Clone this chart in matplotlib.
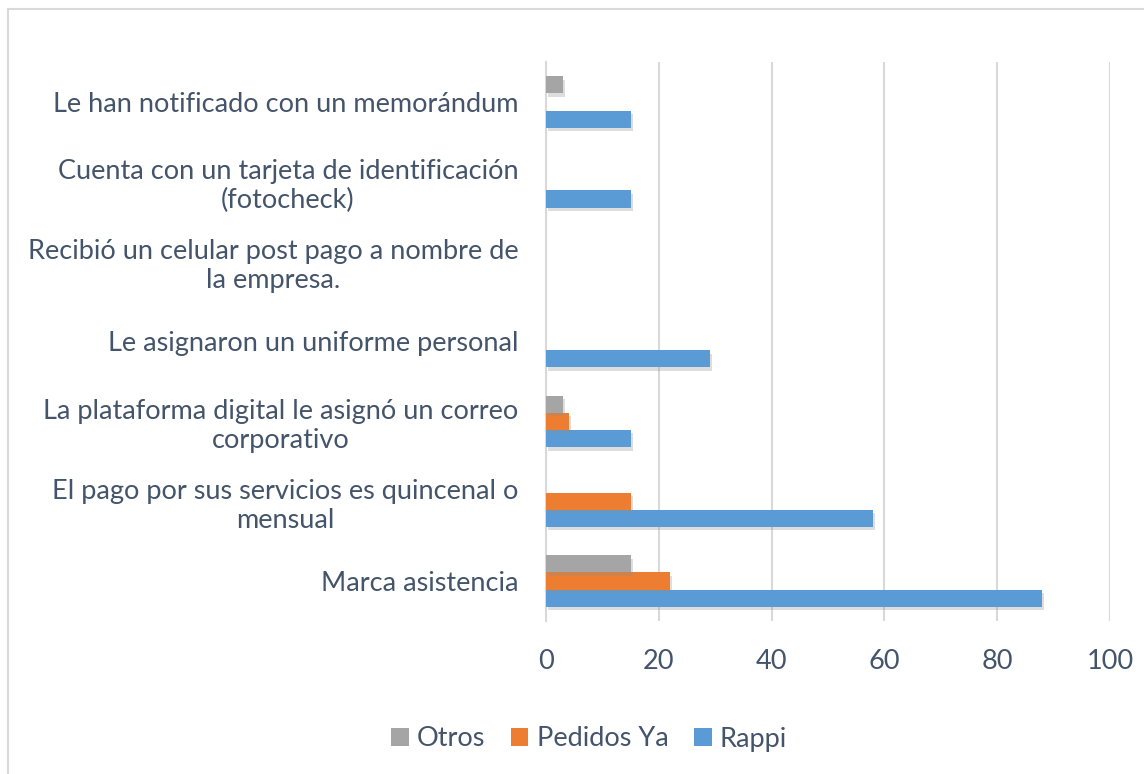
import matplotlib
matplotlib.use("Agg")
import matplotlib.pyplot as plt
import matplotlib.patheffects as pe
from matplotlib.patches import Rectangle, Patch
import numpy as np

categories = [
    "Marca asistencia",
    "El pago por sus servicios es quincenal o\nmensual",
    "La plataforma digital le asignó un correo\ncorporativo",
    "Le asignaron un uniforme personal",
    "Recibió un celular post pago a nombre de\nla empresa.",
    "Cuenta con un tarjeta de identificación\n(fotocheck)",
    "Le han notificado con un memorándum",
]
rappi = [88, 58, 15, 29, 0, 15, 15]
pedidos_ya = [22, 15, 4, 0, 0, 0, 0]
otros = [15, 0, 3, 0, 0, 0, 3]
x_ticks = [0, 20, 40, 60, 80, 100]

plt.rcParams['font.family'] = ['Lato', 'DejaVu Sans']
text_color = '#44546A'

fig = plt.figure(figsize=(11.44, 7.74), dpi=100)
ax = fig.add_axes([546/1144, 1-621/774, (1110-546)/1144, (621-62)/774])

y = np.arange(len(categories))
h = 0.215
shadow = [pe.SimplePatchShadow(offset=(1.5, -2.5), shadow_rgbFace='#909090', alpha=0.3), pe.Normal()]

series = [
    (rappi, -h, '#5B9BD5', 'Rappi'),
    (pedidos_ya, 0, '#ED7D31', 'Pedidos Ya'),
    (otros, h, '#A5A5A5', 'Otros'),
]
colors = {}
for vals, off, col, lab in series:
    bars = ax.barh(y + off, vals, height=h, color=col, label=lab, zorder=3)
    for b in bars:
        if b.get_width() > 0:
            b.set_path_effects(shadow)
    colors[lab] = col

ax.set_xlim(0, 100)
ax.set_ylim(-0.5, len(categories) - 0.5)
ax.set_xticks(x_ticks)
ax.set_yticks(y)
ax.set_yticklabels(categories, multialignment='center')
ax.grid(axis='x', color='#D9D9D9', linewidth=1.5, zorder=0)
for s in ['top', 'right', 'bottom']:
    ax.spines[s].set_visible(False)
ax.spines['left'].set_color('#D9D9D9')
ax.spines['left'].set_linewidth(1.5)
ax.tick_params(axis='both', length=0, labelcolor=text_color, labelsize=19.5)
ax.tick_params(axis='y', pad=20)
ax.tick_params(axis='x', pad=20)

order = ['Otros', 'Pedidos Ya', 'Rappi']
leg = fig.legend([Patch(facecolor=colors[k]) for k in order], order,
                 loc='center', bbox_to_anchor=(589/1144, 1-739/774), ncol=3,
                 frameon=False, fontsize=19.5, handlelength=0.65, handleheight=0.65,
                 handletextpad=0.3, columnspacing=0.95)
for t in leg.get_texts():
    t.set_color(text_color)

fig.patches.append(Rectangle((8/1144, -0.1), 1.2, 1 - 9/774 + 0.1, transform=fig.transFigure,
                             fill=False, edgecolor='#D9D9D9', linewidth=1.5))

fig.savefig('out.png', dpi=100)
